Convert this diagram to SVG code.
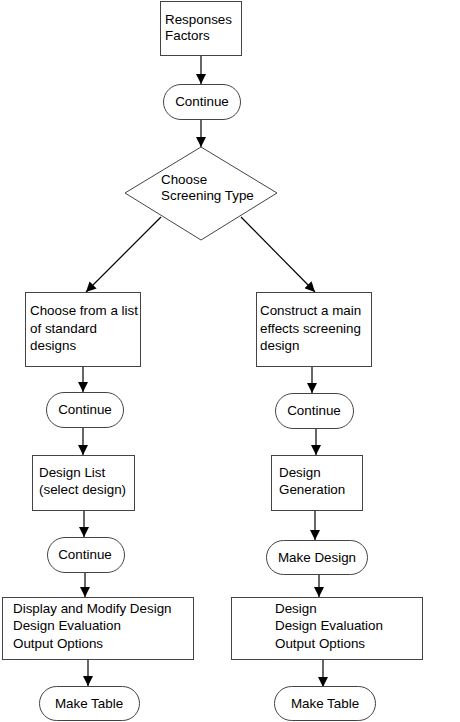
<svg xmlns="http://www.w3.org/2000/svg" width="460" height="722" viewBox="0 0 460 722">
<defs>
<marker id="arr" markerWidth="10" markerHeight="10" refX="10" refY="5" orient="auto" markerUnits="userSpaceOnUse">
<path d="M0,0 L10,5 L0,10 z" fill="#000"/>
</marker>
<style>
.box{fill:#fff;stroke:#444;stroke-width:1}
.t{font-family:"Liberation Sans",Arial,sans-serif;font-size:13.4px;fill:#000}
.c{text-anchor:middle}
.ln{stroke:#000;stroke-width:1.2;fill:none;marker-end:url(#arr)}
</style>
</defs>
<rect width="460" height="722" fill="#fff"/>
<g id="connectors">
<line class="ln" x1="201" y1="56" x2="201" y2="84"/>
<line class="ln" x1="201" y1="119" x2="201" y2="147"/>
<line class="ln" x1="161" y1="217" x2="86" y2="292"/>
<line class="ln" x1="241" y1="217" x2="315" y2="292"/>
<line class="ln" x1="83" y1="366" x2="83" y2="392"/>
<line class="ln" x1="83" y1="428" x2="83" y2="455"/>
<line class="ln" x1="84" y1="510" x2="84" y2="537"/>
<line class="ln" x1="85" y1="572" x2="85" y2="597"/>
<line class="ln" x1="88" y1="659" x2="88" y2="686"/>
<line class="ln" x1="312" y1="366" x2="312" y2="393"/>
<line class="ln" x1="316" y1="428" x2="316" y2="455"/>
<line class="ln" x1="315" y1="510" x2="315" y2="540"/>
<line class="ln" x1="319" y1="574" x2="319" y2="597"/>
<line class="ln" x1="323" y1="659" x2="323" y2="687"/>
</g>
<g id="responses">
<rect class="box" x="160.5" y="1.5" width="81" height="54"/>
<text class="t" x="165" y="24">Responses</text>
<text class="t" x="165" y="40">Factors</text>
</g>
<g id="continue1">
<rect class="box" x="163.5" y="84.5" width="77" height="35" rx="17.5"/>
<text class="t c" x="202" y="106">Continue</text>
</g>
<g id="choose">
<polygon class="box" points="201,147 277,193 201,240 125,193"/>
<text class="t" x="161" y="184">Choose</text>
<text class="t" x="161" y="200">Screening Type</text>
</g>
<g id="standard">
<rect class="box" x="25.5" y="292.5" width="115" height="74"/>
<text class="t" x="30" y="315">Choose from a list</text>
<text class="t" x="30" y="333">of standard</text>
<text class="t" x="30" y="350">designs</text>
</g>
<g id="continue2">
<rect class="box" x="46.5" y="392.5" width="77" height="35" rx="17.5"/>
<text class="t c" x="85" y="414">Continue</text>
</g>
<g id="designlist">
<rect class="box" x="32.5" y="455.5" width="102" height="55"/>
<text class="t" x="39" y="477">Design List</text>
<text class="t" x="39" y="494">(select design)</text>
</g>
<g id="continue3">
<rect class="box" x="47.5" y="537.5" width="77" height="35" rx="17.5"/>
<text class="t c" x="85" y="559">Continue</text>
</g>
<g id="display">
<rect class="box" x="2.5" y="597.5" width="191" height="62"/>
<text class="t" x="13" y="613">Display and Modify Design</text>
<text class="t" x="13" y="630">Design Evaluation</text>
<text class="t" x="13" y="648">Output Options</text>
</g>
<g id="maketable1">
<rect class="box" x="39.5" y="686.5" width="100" height="34" rx="17"/>
<text class="t c" x="89" y="708">Make Table</text>
</g>
<g id="construct">
<rect class="box" x="256.5" y="292.5" width="115" height="74"/>
<text class="t" x="260" y="315">Construct a main</text>
<text class="t" x="260" y="333">effects screening</text>
<text class="t" x="260" y="350">design</text>
</g>
<g id="continue4">
<rect class="box" x="275.5" y="393.5" width="78" height="35" rx="17.5"/>
<text class="t c" x="314" y="415">Continue</text>
</g>
<g id="generation">
<rect class="box" x="271.5" y="455.5" width="91" height="55"/>
<text class="t" x="279" y="477">Design</text>
<text class="t" x="279" y="494">Generation</text>
</g>
<g id="makedesign">
<rect class="box" x="266.5" y="540.5" width="101" height="34" rx="17"/>
<text class="t c" x="317" y="562">Make Design</text>
</g>
<g id="designeval">
<rect class="box" x="231.5" y="597.5" width="191" height="62"/>
<text class="t" x="275" y="613">Design</text>
<text class="t" x="275" y="630">Design Evaluation</text>
<text class="t" x="275" y="648">Output Options</text>
</g>
<g id="maketable2">
<rect class="box" x="274.5" y="686.5" width="101" height="34" rx="17"/>
<text class="t c" x="325" y="708">Make Table</text>
</g>
</svg>
